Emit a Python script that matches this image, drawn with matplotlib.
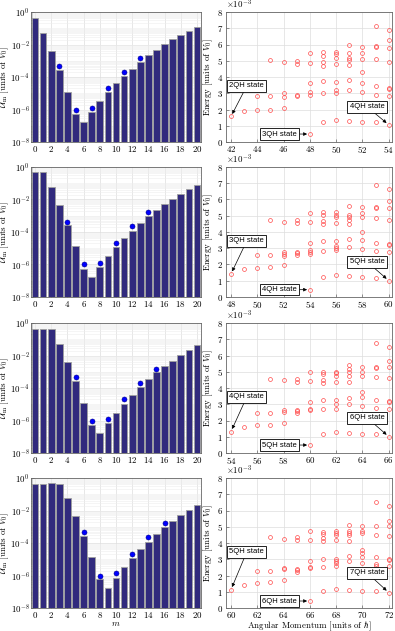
import numpy as np
import matplotlib
matplotlib.use("Agg")
import matplotlib.pyplot as plt
from matplotlib.ticker import MultipleLocator, LogLocator, ScalarFormatter, NullFormatter

FS = 6.4
plt.rcParams.update({
    "font.family": "serif",
    "font.serif": ["cmr10"],
    "mathtext.fontset": "cm",
    "axes.formatter.use_mathtext": True,
    "font.size": FS,
})

# ---------------- data: pseudopotentials (left column) ----------------
m = list(range(21))
U_1 = [0.4, 0.049, 4.2e-3, 2.6e-4, 1.26e-5, 5.6e-7, 1.6e-7, 7e-7, 3.2e-6, 1.15e-5, 4e-5,
       1.2e-4, 3.2e-4, 8.7e-4, 2.2e-3, 4.8e-3, 0.0105, 0.021, 0.041, 0.071, 0.123]
U_2 = [0.5, 0.47, 0.055, 4.3e-3, 2.6e-4, 1.4e-5, 5.5e-7, 1.7e-7, 7.4e-7, 3.4e-6, 1.2e-5,
       4e-5, 1.2e-4, 3.5e-4, 9e-4, 2.3e-3, 5e-3, 0.011, 0.022, 0.042, 0.074]
U_3 = [0.4, 0.45, 0.41, 0.049, 4.2e-3, 2.6e-4, 1.26e-5, 5.6e-7, 1.7e-7, 7e-7, 3e-6,
       1.1e-5, 3.8e-5, 1.2e-4, 3.4e-4, 9e-4, 2.2e-3, 4.8e-3, 0.0105, 0.021, 0.043]
U_4 = [0.4, 0.45, 0.5, 0.43, 0.056, 4.4e-3, 2.7e-4, 1.3e-5, 5.9e-7, 1.8e-7, 7.4e-7,
       3.2e-6, 1.15e-5, 4e-5, 1.2e-4, 3.4e-4, 9.5e-4, 2.2e-3, 5e-3, 0.0105, 0.021]

dot_m_1 = [3, 5, 7, 9, 11, 13]
dot_U_1 = [4.7e-4, 1e-6, 1.26e-6, 2e-5, 2.1e-4, 1.5e-3]
dot_m_2 = [4, 6, 8, 10, 12, 14]
dot_U_2 = [4.4e-4, 1e-6, 1.3e-6, 2e-5, 2.2e-4, 1.7e-3]
dot_m_3 = [5, 7, 9, 11, 13, 15]
dot_U_3 = [4.7e-4, 1e-6, 1.3e-6, 2e-5, 2.1e-4, 1.5e-3]
dot_m_4 = [6, 8, 10, 12, 14, 16]
dot_U_4 = [4.9e-4, 1e-6, 1.4e-6, 2e-5, 2.2e-4, 1.6e-3]

# ---------------- data: spectra (right column), energies in 1e-3 V0 ----------------
L_1 = [42, 43, 44, 45, 46, 47, 48, 49, 50, 51, 52, 53, 54]
E_1 = [[1.57], [1.92], [2.84, 1.98], [5.04, 2.82, 1.98], [4.9, 3.0, 2.8, 2.12],
       [4.98, 4.82, 2.9, 2.84], [5.45, 4.86, 3.61, 3.1, 2.9, 0.49],
       [5.55, 5.3, 4.9, 4.7, 3.76, 3.04, 1.22],
       [5.55, 5.39, 5.18, 4.8, 3.71, 3.2, 3.04, 1.37],
       [6.0, 5.45, 5.18, 5.04, 4.73, 3.8, 3.18, 1.31],
       [5.84, 5.45, 5.1, 4.29, 3.65, 3.06, 1.24],
       [7.12, 5.9, 5.82, 5.08, 3.45, 2.9, 1.22],
       [6.88, 6.27, 5.78, 4.92, 3.35, 3.27, 2.84, 1.06]]
L_2 = [48, 49, 50, 51, 52, 53, 54, 55, 56, 57, 58, 59, 60]
E_2 = [[1.42], [1.72], [2.59, 1.78], [4.76, 2.59, 1.82], [4.64, 2.79, 2.67, 2.53, 1.98],
       [4.72, 4.56, 2.79, 2.69, 2.57], [5.16, 4.6, 3.3, 2.89, 2.79, 2.67, 0.45],
       [5.2, 5.04, 4.7, 4.5, 3.44, 2.83, 1.21],
       [5.26, 5.06, 4.9, 4.55, 3.44, 3.14, 3.04, 2.89, 1.36],
       [5.63, 5.06, 4.94, 4.76, 4.51, 3.54, 3.1, 1.28],
       [5.53, 5.16, 4.9, 3.99, 3.48, 2.98, 1.21],
       [6.88, 5.53, 5.49, 4.84, 3.34, 2.83, 1.17],
       [6.62, 5.93, 5.47, 4.76, 3.24, 3.18, 2.77, 1.01]]
L_3 = [54, 55, 56, 57, 58, 59, 60, 61, 62, 63, 64, 65, 66]
E_3 = [[1.32], [1.62], [2.47, 1.7], [4.55, 2.47, 1.7], [4.47, 2.67, 2.53, 1.86],
       [4.55, 4.39, 2.67, 2.57, 2.47], [5.0, 4.45, 3.12, 2.73, 2.63, 0.49],
       [4.96, 4.86, 4.49, 4.29, 3.28, 2.73, 1.15],
       [5.0, 4.94, 4.76, 4.39, 3.28, 3.02, 2.73, 1.3],
       [5.4, 5.14, 4.96, 4.76, 4.39, 3.38, 3.02, 1.26],
       [5.3, 4.96, 4.76, 3.77, 3.42, 2.87, 1.19],
       [6.76, 5.3, 5.24, 4.7, 3.28, 2.75, 1.15],
       [6.52, 5.67, 5.28, 4.64, 3.22, 3.14, 2.73, 1.01]]
L_4 = [60, 61, 62, 63, 64, 65, 66, 67, 68, 69, 70, 71, 72]
E_4 = [[1.13], [1.44], [2.29, 1.54], [4.35, 2.29, 1.58], [4.23, 2.49, 2.39, 1.7],
       [4.35, 4.21, 2.43, 2.33, 2.19], [4.76, 4.21, 2.89, 2.55, 2.45, 0.43],
       [4.68, 4.55, 4.31, 4.15, 3.04, 2.55, 1.07],
       [4.72, 4.64, 4.51, 4.21, 3.0, 2.87, 2.75, 2.59, 1.19],
       [5.12, 4.72, 4.62, 4.51, 4.15, 3.18, 2.87, 1.13],
       [5.04, 4.72, 4.62, 3.54, 3.4, 3.16, 2.75, 1.07],
       [6.54, 5.04, 4.51, 3.12, 2.69, 2.61, 1.07],
       [6.3, 5.38, 5.02, 4.45, 3.04, 2.96, 2.57, 0.95]]

labels_1 = ["2QH state", "3QH state", "4QH state"]
labels_2 = ["3QH state", "4QH state", "5QH state"]
labels_3 = ["4QH state", "5QH state", "6QH state"]
labels_4 = ["5QH state", "6QH state", "7QH state"]

U_all = [U_1, U_2, U_3, U_4]
dots_all = [(dot_m_1, dot_U_1), (dot_m_2, dot_U_2), (dot_m_3, dot_U_3), (dot_m_4, dot_U_4)]
spec_all = [(L_1, E_1, labels_1), (L_2, E_2, labels_2), (L_3, E_3, labels_3), (L_4, E_4, labels_4)]

# ---------------- layout ----------------
W, H = 395, 631
fig = plt.figure(figsize=(W / 100, H / 100), dpi=100)
tops = [12, 167, 323, 478]
ph = 130
lx0, lx1 = 31, 201
rx0, rx1 = 226, 392

bar_color = "#312a7d"
spine_color = "#666666"
grid_major = "#dddddd"
grid_minor = "#eeeeee"
ann_font = dict(family="Liberation Sans", size=5.5)
bbox = dict(boxstyle="square,pad=0.3", fc="white", ec="black", lw=0.6)
arrow = dict(arrowstyle="-|>", color="black", lw=0.5, mutation_scale=5, shrinkA=0, shrinkB=2)


def style(ax):
    for s in ax.spines.values():
        s.set_color(spine_color)
        s.set_linewidth(0.6)
    ax.tick_params(direction="in", length=2, width=0.5, color=spine_color, pad=2, labelsize=FS)
    ax.tick_params(axis="x", pad=1.2)
    ax.tick_params(which="minor", direction="in", length=1, width=0.4, color=spine_color)
    ax.set_axisbelow(True)


for i in range(4):
    b = 1 - (tops[i] + ph) / H
    # ---- left: pseudopotentials ----
    axl = fig.add_axes([lx0 / W, b, (lx1 - lx0) / W, ph / H])
    style(axl)
    axl.set_yscale("log")
    axl.bar(m, U_all[i], width=0.82, color=bar_color, edgecolor="#a0a0a0", linewidth=0.6, zorder=2)
    dm, du = dots_all[i]
    axl.plot(dm, du, "o", color="#0000ff", mec="#00008b", mew=0.4, ms=3.6, zorder=3)
    axl.set_ylim(1e-8, 1)
    axl.set_xlim(-0.5, 20.5)
    axl.set_yticks([1e-8, 1e-6, 1e-4, 1e-2, 1])
    axl.yaxis.set_minor_locator(LogLocator(base=10, subs=np.arange(1, 10), numticks=100))
    axl.yaxis.set_minor_formatter(NullFormatter())
    axl.set_xticks(range(0, 21, 2))
    axl.tick_params(axis="y", pad=1)
    axl.grid(True, which="major", color=grid_major, lw=0.5)
    axl.grid(True, which="minor", axis="y", color=grid_minor, lw=0.4)
    axl.set_ylabel(r"$\mathcal{U}_\mathrm{m}$ [units of $V_0$]")
    axl.yaxis.set_label_coords(-0.12, 0.5)
    if i == 3:
        axl.set_xlabel(r"$m$", labelpad=0)

    # ---- right: spectra ----
    L, E, labels = spec_all[i]
    axr = fig.add_axes([rx0 / W, b, (rx1 - rx0) / W, ph / H])
    style(axr)
    for Lv, Es in zip(L, E):
        axr.plot([Lv] * len(Es), np.array(Es) * 1e-3, "o", mfc="none", mec="#ff4a4a",
                 mew=0.5, ms=2.8, zorder=3)
    L0 = L[0]
    axr.set_xlim(L0 - 0.38, L0 + 12.25)
    axr.set_ylim(0, 8e-3)
    axr.xaxis.set_major_locator(MultipleLocator(2))
    axr.yaxis.set_major_locator(MultipleLocator(1e-3))
    fmt = ScalarFormatter(useMathText=True)
    fmt.set_powerlimits((0, 0))
    axr.yaxis.set_major_formatter(fmt)
    axr.yaxis.get_offset_text().set_fontsize(FS)
    axr.grid(True, color=grid_major, lw=0.5)
    axr.set_ylabel(r"Energy [units of $V_0$]", labelpad=1.5)
    if i == 3:
        axr.set_xlabel(r"Angular Momentum [units of $\hbar$]", labelpad=0)

    # annotations: first point, minimum at middle L, lowest at last L
    E_first = E[0][0]
    mid = L.index(L0 + 6)
    E_mid = min(E[mid])
    E_last = min(E[-1])
    axr.annotate(labels[0], xy=(L0, E_first * 1e-3), xytext=(L0 + 1.2, 3.45e-3),
                 ha="center", va="center", bbox=bbox, arrowprops=arrow, **ann_font)
    axr.annotate(labels[1], xy=(L0 + 6, E_mid * 1e-3), xytext=(L0 + 3.7, E_mid * 1e-3),
                 ha="center", va="center", bbox=bbox, arrowprops=arrow, **ann_font)
    axr.annotate(labels[2], xy=(L[-1], E_last * 1e-3), xytext=(L0 + 10.35, 2.17e-3),
                 ha="center", va="center", bbox=bbox, arrowprops=arrow, **ann_font)

fig.savefig("out.png", dpi=100)
